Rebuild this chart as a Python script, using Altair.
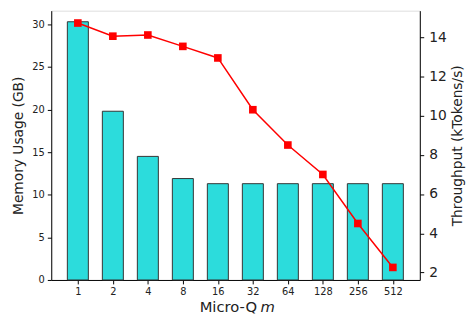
import altair as alt
import pandas as pd

labels = ["1", "2", "4", "8", "16", "32", "64", "128", "256", "512"]
memory = [30.3, 19.8, 14.5, 11.9, 11.3, 11.3, 11.3, 11.3, 11.3, 11.3]
throughput = [14.72, 14.05, 14.11, 13.53, 12.94, 10.3, 8.5, 7.0, 4.5, 2.26]

df = pd.DataFrame({
    "idx": list(range(len(labels))),
    "label": labels,
    "memory": memory,
    "throughput": throughput,
})
df["x0"] = df["idx"] - 0.3
df["x1"] = df["idx"] + 0.3

FONT = "DejaVu Sans"
xscale = alt.Scale(domain=[-0.76, 9.77], nice=False, zero=False)
label_expr = "[" + ",".join("'%s'" % l for l in labels) + "][datum.value]"
xaxis = alt.Axis(values=list(range(len(labels))), labelExpr=label_expr,
                 title=None, grid=False, domainColor="black", tickColor="black",
                 labelColor="#222", labelFont=FONT, labelFontSize=10,
                 tickSize=4, labelPadding=3)

base = alt.Chart(df)

bars = base.mark_bar(color="#2cdcdc", stroke="#333333", strokeWidth=1).encode(
    x=alt.X("x0:Q", scale=xscale, axis=xaxis),
    x2="x1:Q",
    y=alt.Y("memory:Q", scale=alt.Scale(domain=[0, 31.6], nice=False),
            axis=alt.Axis(values=[0, 5, 10, 15, 20, 25, 30], title="Memory Usage (GB)",
                          grid=False, domainColor="black", tickColor="black",
                          labelColor="#222", labelFont=FONT, labelFontSize=10,
                          titleFont=FONT, titleFontSize=14, titleFontWeight="normal",
                          titleColor="#222", tickSize=4, labelPadding=3, titlePadding=7)),
    y2=alt.datum(0),
)

line = base.mark_line(color="red", strokeWidth=1.5, point=alt.OverlayMarkDef(shape="square", size=60, color="red", filled=True, opacity=1)).encode(
    x=alt.X("idx:Q", scale=xscale, axis=xaxis),
    y=alt.Y("throughput:Q", scale=alt.Scale(domain=[1.62, 15.35], nice=False, zero=False),
            axis=alt.Axis(orient="right", values=[2, 4, 6, 8, 10, 12, 14],
                          title="Throughput (kTokens/s)", titleAngle=270, grid=False,
                          domainColor="black", tickColor="black",
                          labelColor="#222", labelFont=FONT, labelFontSize=14,
                          titleFont=FONT, titleFontSize=14, titleFontWeight="normal",
                          titleColor="#222", tickSize=4, labelPadding=5, titlePadding=19)),
)

title1 = alt.Chart(pd.DataFrame({"t": ["Micro-Q"]})).mark_text(
    font=FONT, fontSize=15, color="#222", align="left", baseline="alphabetic"
).encode(text="t:N", x=alt.value(151), y=alt.value(307))
title2 = alt.Chart(pd.DataFrame({"t": ["m"]})).mark_text(
    font=FONT, fontSize=15, color="#222", align="left", baseline="alphabetic", fontStyle="italic"
).encode(text="t:N", x=alt.value(213), y=alt.value(307))

chart = alt.layer(bars, line, title1, title2).resolve_scale(y="independent").properties(
    width=375, height=274,
    autosize=alt.AutoSizeParams(type="none"),
    padding={"left": 44, "top": 0, "right": 47, "bottom": 38},
).configure_view(stroke="black", strokeWidth=1).configure(background="white")

chart.save("out.html", embed_options={"renderer": "svg", "actions": False})
